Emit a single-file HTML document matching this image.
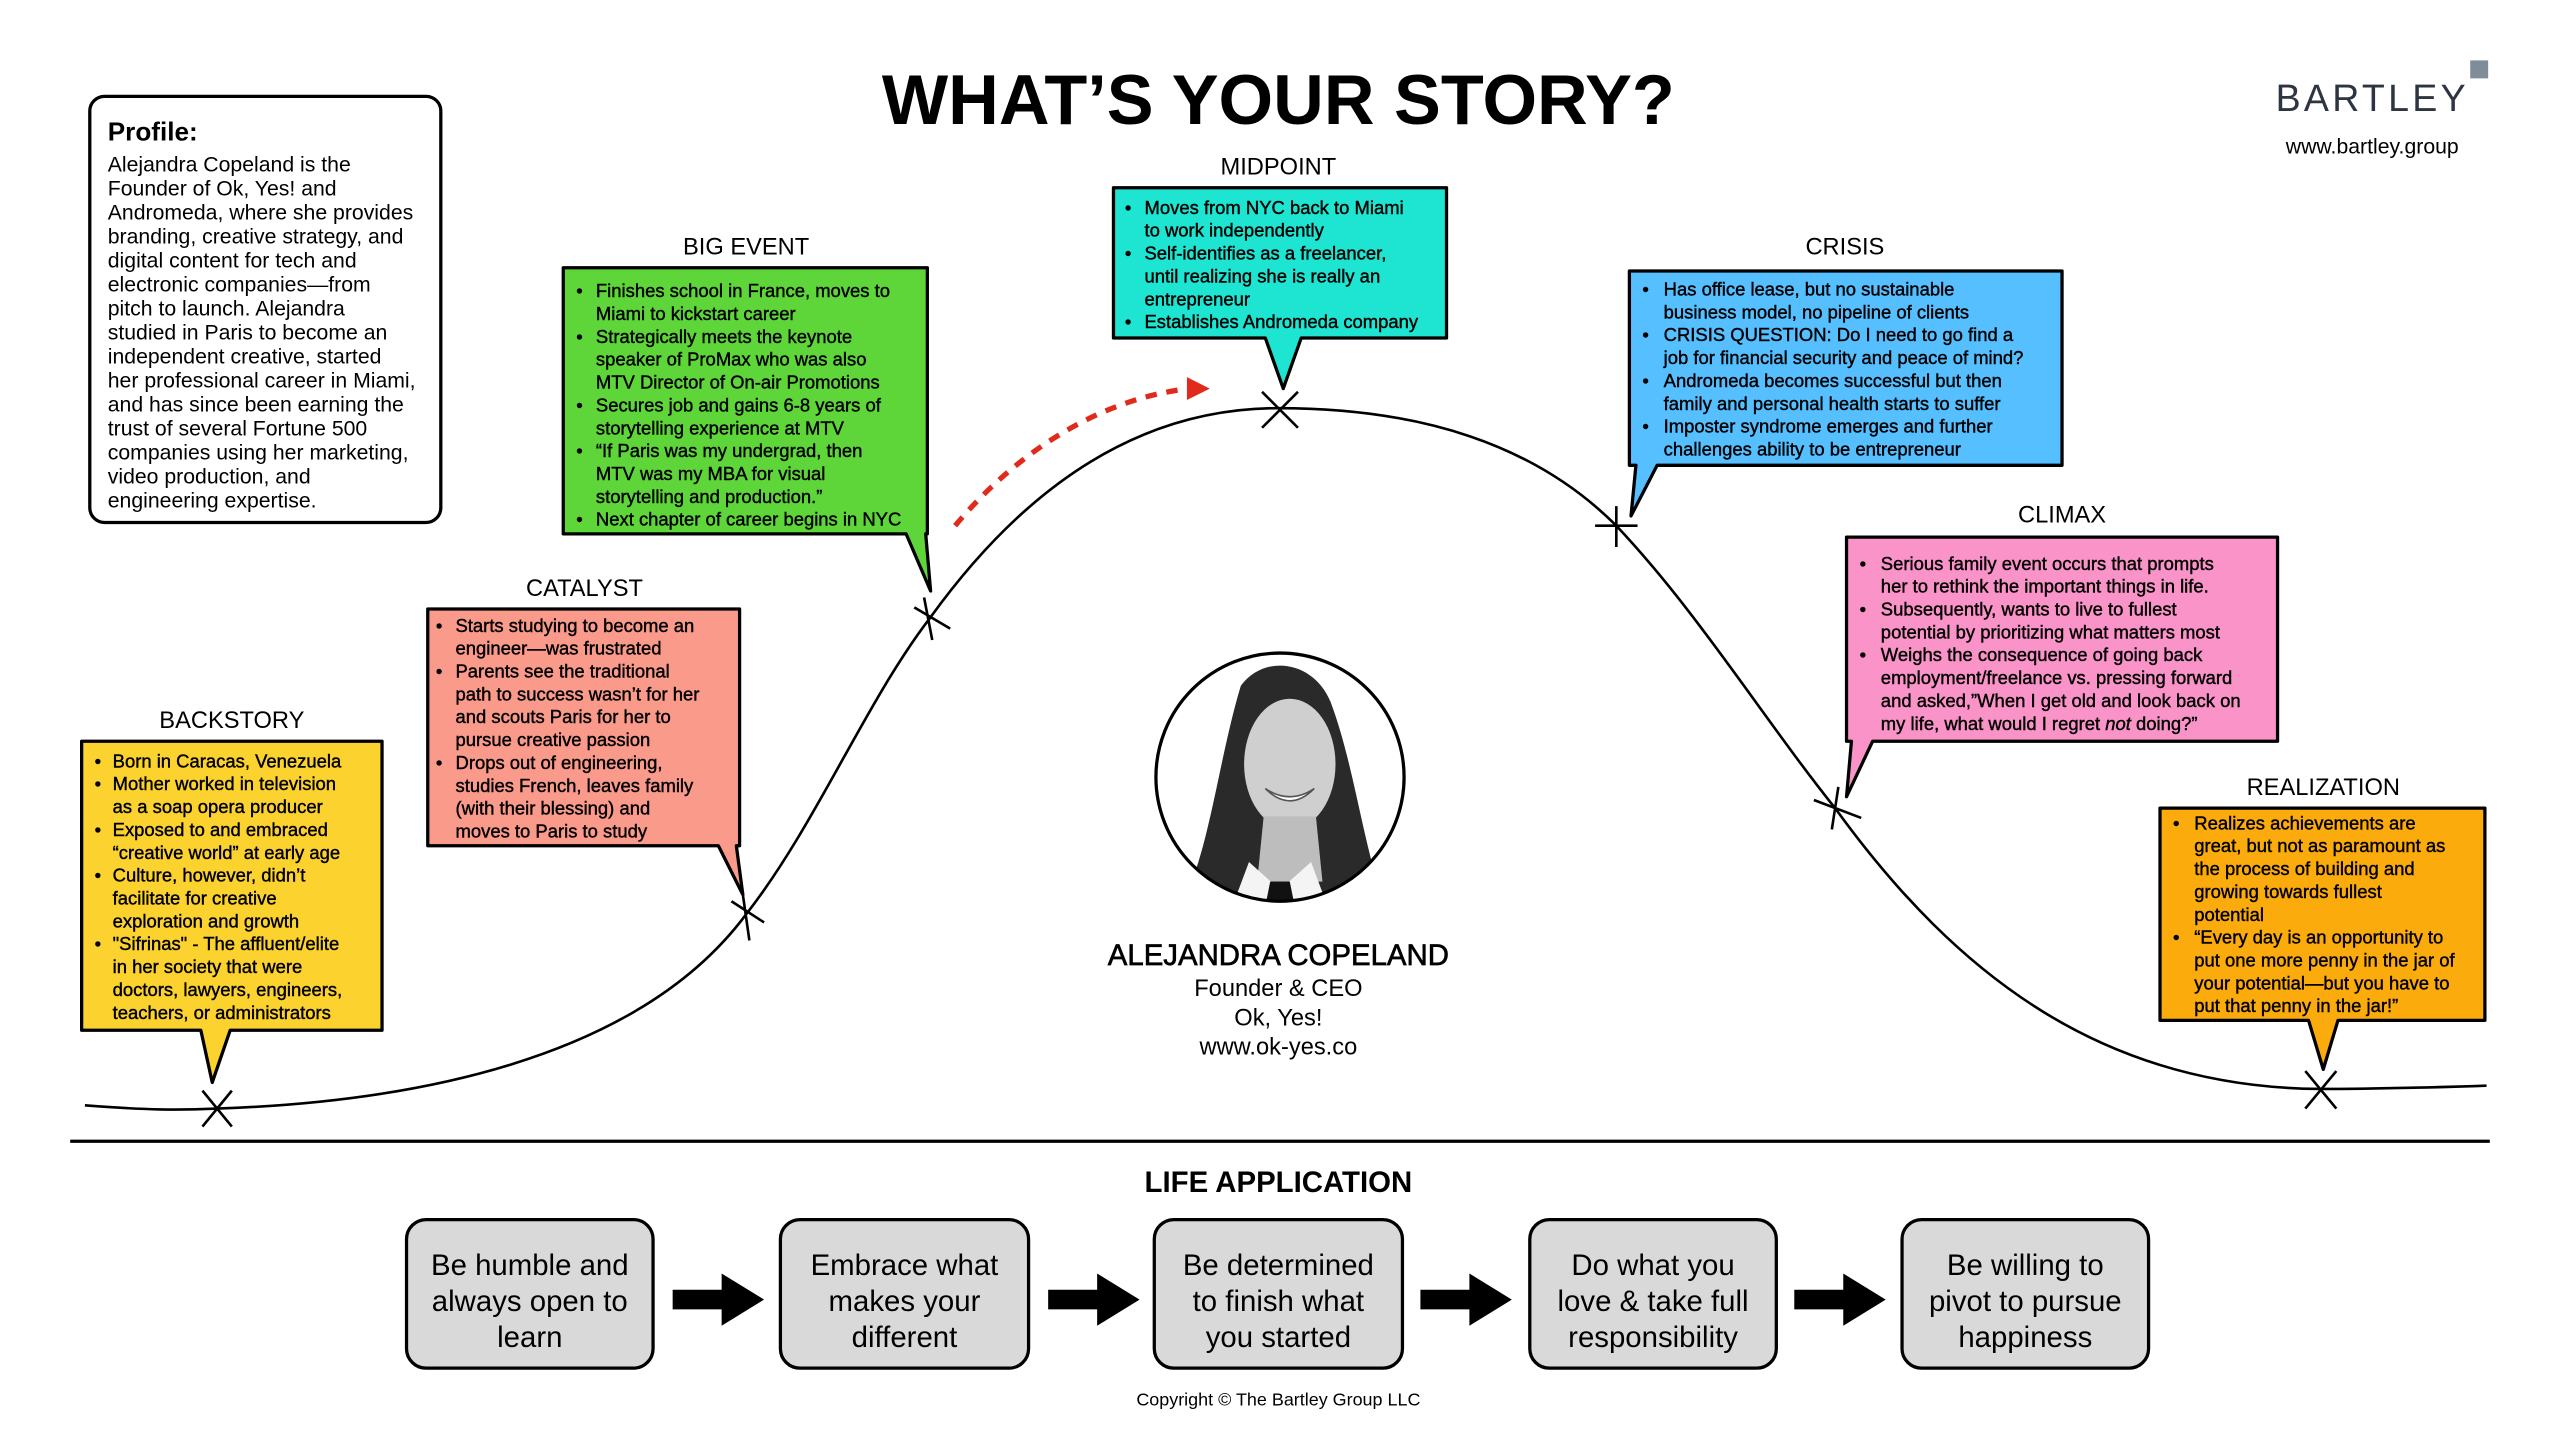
<!DOCTYPE html>
<html><head><meta charset="utf-8"><style>
html,body{margin:0;padding:0;background:#fff;}
svg{display:block;}
text{font-family:"Liberation Sans",Arial,sans-serif;fill:#000;}
.lab{font-size:14.5px;text-anchor:middle;}
.cb{font-size:11.3px;stroke:#000;stroke-width:0.25;}
.pf{font-size:13px;}
.bx{font-size:18px;text-anchor:middle;}
.cl{stroke:#000;stroke-width:2;stroke-linejoin:round;}
</style></head><body>
<svg width="2560" height="1440" viewBox="0 0 1568 882" preserveAspectRatio="none" xmlns="http://www.w3.org/2000/svg">
<rect width="1568" height="882" fill="#fff"/>
<!-- Title -->
<text x="783" y="76" style="font-size:43px;font-weight:bold;text-anchor:middle;">WHAT’S YOUR STORY?</text>
<text x="1453" y="68" style="font-size:23px;letter-spacing:2px;text-anchor:middle;fill:#2d3540;">BARTLEY</text>
<rect x="1513" y="37" width="11" height="11" fill="#7f8c99"/>
<text x="1453" y="94" style="font-size:13px;text-anchor:middle;">www.bartley.group</text>

<!-- Profile -->
<rect x="55" y="59" width="215" height="261" rx="9" fill="#fff" stroke="#000" stroke-width="2"/>
<text x="66" y="86" style="font-size:16px;font-weight:bold;">Profile:</text>
<text class="pf" x="66">
<tspan x="66" y="105">Alejandra Copeland is the</tspan>
<tspan x="66" y="119.7">Founder of Ok, Yes! and</tspan>
<tspan x="66" y="134.4">Andromeda, where she provides</tspan>
<tspan x="66" y="149.1">branding, creative strategy, and</tspan>
<tspan x="66" y="163.8">digital content for tech and</tspan>
<tspan x="66" y="178.5">electronic companies—from</tspan>
<tspan x="66" y="193.2">pitch to launch. Alejandra</tspan>
<tspan x="66" y="207.9">studied in Paris to become an</tspan>
<tspan x="66" y="222.6">independent creative, started</tspan>
<tspan x="66" y="237.3">her professional career in Miami,</tspan>
<tspan x="66" y="252">and has since been earning the</tspan>
<tspan x="66" y="266.7">trust of several Fortune 500</tspan>
<tspan x="66" y="281.4">companies using her marketing,</tspan>
<tspan x="66" y="296.1">video production, and</tspan>
<tspan x="66" y="310.8">engineering expertise.</tspan>
</text>

<!-- Curve -->
<path d="M52,677 C90,680 110,680 133,679 C250,675 390,650 457,560 C500,505 530,430 570,378 C630,295 700,250 783,250 C870,250 940,272 990,322 C1040,375 1080,440 1124,495 C1200,600 1290,666 1421,667 C1460,667 1490,666 1523,665" fill="none" stroke="#000" stroke-width="1.6"/>

<!-- Markers -->
<g stroke="#000" stroke-width="1.6">
<path d="M124,668 L142,690 M142,668 L124,690"/>
<path d="M448,552 L468,565 M455,548 L459,576"/>
<path d="M560,372 L582,385 M566,366 L571,392"/>
<path d="M773,240 L795,262 M795,240 L773,262"/>
<path d="M977,322 L1003,322 M990,310 L990,335"/>
<path d="M1111,490 L1140,501 M1126,482 L1122,508"/>
<path d="M1412,656 L1431,679 M1431,656 L1412,679"/>
</g>

<!-- Red dashed arrow -->
<path d="M585,322 C620,280 670,245 728,238" fill="none" stroke="#e02a1b" stroke-width="3.2" stroke-dasharray="7,6"/>
<path d="M727,231 L741,238 L727,245 Z" fill="#e02a1b"/>

<!-- BACKSTORY -->
<text class="lab" x="142" y="446">BACKSTORY</text>
<path class="cl" d="M50,454 H234 V631 H141 L130,663 L123,631 H50 Z" fill="#fcd22f"/>
<text class="cb">
<tspan x="58" y="470">•</tspan><tspan x="69" y="470">Born in Caracas, Venezuela</tspan>
<tspan x="58" y="484">•</tspan><tspan x="69" y="484">Mother worked in television</tspan>
<tspan x="69" y="498">as a soap opera producer</tspan>
<tspan x="58" y="512">•</tspan><tspan x="69" y="512">Exposed to and embraced</tspan>
<tspan x="69" y="526">“creative world” at early age</tspan>
<tspan x="58" y="540">•</tspan><tspan x="69" y="540">Culture, however, didn’t</tspan>
<tspan x="69" y="554">facilitate for creative</tspan>
<tspan x="69" y="568">exploration and growth</tspan>
<tspan x="58" y="582">•</tspan><tspan x="69" y="582">"Sifrinas" - The affluent/elite</tspan>
<tspan x="69" y="596">in her society that were</tspan>
<tspan x="69" y="610">doctors, lawyers, engineers,</tspan>
<tspan x="69" y="624">teachers, or administrators</tspan>
</text>

<!-- CATALYST -->
<text class="lab" x="358" y="365">CATALYST</text>
<path class="cl" d="M262,373 H453 V518 H451 L455,548 L440,518 H262 Z" fill="#f99a8a"/>
<text class="cb">
<tspan x="267" y="387">•</tspan><tspan x="279" y="387">Starts studying to become an</tspan>
<tspan x="279" y="401">engineer—was frustrated</tspan>
<tspan x="267" y="415">•</tspan><tspan x="279" y="415">Parents see the traditional</tspan>
<tspan x="279" y="429">path to success wasn’t for her</tspan>
<tspan x="279" y="443">and scouts Paris for her to</tspan>
<tspan x="279" y="457">pursue creative passion</tspan>
<tspan x="267" y="471">•</tspan><tspan x="279" y="471">Drops out of engineering,</tspan>
<tspan x="279" y="485">studies French, leaves family</tspan>
<tspan x="279" y="499">(with their blessing) and</tspan>
<tspan x="279" y="513">moves to Paris to study</tspan>
</text>

<!-- BIG EVENT -->
<text class="lab" x="457" y="156">BIG EVENT</text>
<path class="cl" d="M345,164 H568 V327 H567 L570,362 L555,327 H345 Z" fill="#5ed63a"/>
<text class="cb">
<tspan x="353" y="182">•</tspan><tspan x="365" y="182">Finishes school in France, moves to</tspan>
<tspan x="365" y="196">Miami to kickstart career</tspan>
<tspan x="353" y="210">•</tspan><tspan x="365" y="210">Strategically meets the keynote</tspan>
<tspan x="365" y="224">speaker of ProMax who was also</tspan>
<tspan x="365" y="238">MTV Director of On-air Promotions</tspan>
<tspan x="353" y="252">•</tspan><tspan x="365" y="252">Secures job and gains 6-8 years of</tspan>
<tspan x="365" y="266">storytelling experience at MTV</tspan>
<tspan x="353" y="280">•</tspan><tspan x="365" y="280">“If Paris was my undergrad, then</tspan>
<tspan x="365" y="294">MTV was my MBA for visual</tspan>
<tspan x="365" y="308">storytelling and production.”</tspan>
<tspan x="353" y="322">•</tspan><tspan x="365" y="322">Next chapter of career begins in NYC</tspan>
</text>

<!-- MIDPOINT -->
<text class="lab" x="783" y="107">MIDPOINT</text>
<path class="cl" d="M682,115 H886 V207 H797 L786,238 L775,207 H682 Z" fill="#1de5d1"/>
<text class="cb">
<tspan x="689" y="131">•</tspan><tspan x="701" y="131">Moves from NYC back to Miami</tspan>
<tspan x="701" y="145">to work independently</tspan>
<tspan x="689" y="159">•</tspan><tspan x="701" y="159">Self-identifies as a freelancer,</tspan>
<tspan x="701" y="173">until realizing she is really an</tspan>
<tspan x="701" y="187">entrepreneur</tspan>
<tspan x="689" y="201">•</tspan><tspan x="701" y="201">Establishes Andromeda company</tspan>
</text>

<!-- CRISIS -->
<text class="lab" x="1130" y="156">CRISIS</text>
<path class="cl" d="M998,166 H1263 V285 H1015 L999,316 L1002,285 H998 Z" fill="#55bfff"/>
<text class="cb">
<tspan x="1006" y="181">•</tspan><tspan x="1019" y="181">Has office lease, but no sustainable</tspan>
<tspan x="1019" y="195">business model, no pipeline of clients</tspan>
<tspan x="1006" y="209">•</tspan><tspan x="1019" y="209">CRISIS QUESTION: Do I need to go find a</tspan>
<tspan x="1019" y="223">job for financial security and peace of mind?</tspan>
<tspan x="1006" y="237">•</tspan><tspan x="1019" y="237">Andromeda becomes successful but then</tspan>
<tspan x="1019" y="251">family and personal health starts to suffer</tspan>
<tspan x="1006" y="265">•</tspan><tspan x="1019" y="265">Imposter syndrome emerges and further</tspan>
<tspan x="1019" y="279">challenges ability to be entrepreneur</tspan>
</text>

<!-- CLIMAX -->
<text class="lab" x="1263" y="320">CLIMAX</text>
<path class="cl" d="M1131,329 H1395 V454 H1147 L1131,488 L1134,454 H1131 Z" fill="#f993c8"/>
<text class="cb">
<tspan x="1139" y="349">•</tspan><tspan x="1152" y="349">Serious family event occurs that prompts</tspan>
<tspan x="1152" y="363">her to rethink the important things in life.</tspan>
<tspan x="1139" y="377">•</tspan><tspan x="1152" y="377">Subsequently, wants to live to fullest</tspan>
<tspan x="1152" y="391">potential by prioritizing what matters most</tspan>
<tspan x="1139" y="405">•</tspan><tspan x="1152" y="405">Weighs the consequence of going back</tspan>
<tspan x="1152" y="419">employment/freelance vs. pressing forward</tspan>
<tspan x="1152" y="433">and asked,”When I get old and look back on</tspan>
<tspan x="1152" y="447">my life, what would I regret <tspan font-style="italic">not</tspan> doing?”</tspan>
</text>

<!-- REALIZATION -->
<text class="lab" x="1423" y="487">REALIZATION</text>
<path class="cl" d="M1323,495 H1522 V625 H1432 L1423,655 L1414,625 H1323 Z" fill="#fbab0c"/>
<text class="cb">
<tspan x="1331" y="508">•</tspan><tspan x="1344" y="508">Realizes achievements are</tspan>
<tspan x="1344" y="522">great, but not as paramount as</tspan>
<tspan x="1344" y="536">the process of building and</tspan>
<tspan x="1344" y="550">growing towards fullest</tspan>
<tspan x="1344" y="564">potential</tspan>
<tspan x="1331" y="578">•</tspan><tspan x="1344" y="578">“Every day is an opportunity to</tspan>
<tspan x="1344" y="592">put one more penny in the jar of</tspan>
<tspan x="1344" y="606">your potential—but you have to</tspan>
<tspan x="1344" y="620">put that penny in the jar!”</tspan>
</text>

<!-- Photo -->
<defs><clipPath id="cp"><circle cx="784" cy="476" r="76"/></clipPath></defs>
<g clip-path="url(#cp)">
<rect x="700" y="390" width="170" height="170" fill="#fff"/>
<path d="M760,420 C775,400 805,405 815,430 C830,470 835,520 850,560 L720,560 C740,530 745,470 760,420 Z" fill="#2a2a2a"/>
<ellipse cx="790" cy="468" rx="28" ry="40" fill="#cfcfcf"/>
<path d="M774,500 L806,500 L810,540 L770,540 Z" fill="#bdbdbd"/>
<path d="M765,528 L784,545 L803,528 L815,560 L753,560 Z" fill="#f4f4f4"/>
<path d="M778,540 L790,540 L794,560 L774,560 Z" fill="#111"/>
<path d="M775,483 Q790,493 805,483 Q790,498 775,483 Z" fill="#fff" stroke="#555" stroke-width="1"/>
</g>
<circle cx="784" cy="476" r="76" fill="none" stroke="#000" stroke-width="2"/>

<text x="783" y="591" style="font-size:18px;text-anchor:middle;stroke:#000;stroke-width:0.4;">ALEJANDRA COPELAND</text>
<text x="783" y="610" style="font-size:14.5px;text-anchor:middle;">Founder &amp; CEO</text>
<text x="783" y="628" style="font-size:14.5px;text-anchor:middle;">Ok, Yes!</text>
<text x="783" y="646" style="font-size:14.5px;text-anchor:middle;">www.ok-yes.co</text>

<line x1="43" y1="699" x2="1525" y2="699" stroke="#000" stroke-width="2"/>
<text x="783" y="730" style="font-size:18px;font-weight:bold;text-anchor:middle;">LIFE APPLICATION</text>

<!-- Boxes -->
<g fill="#d9d9d9" stroke="#000" stroke-width="2">
<rect x="249" y="747" width="151" height="91" rx="12"/>
<rect x="478" y="747" width="152" height="91" rx="12"/>
<rect x="707" y="747" width="152" height="91" rx="12"/>
<rect x="937" y="747" width="151" height="91" rx="12"/>
<rect x="1165" y="747" width="151" height="91" rx="12"/>
</g>
<text class="bx"><tspan x="324.5" y="781">Be humble and</tspan><tspan x="324.5" y="803">always open to</tspan><tspan x="324.5" y="825">learn</tspan></text>
<text class="bx"><tspan x="554" y="781">Embrace what</tspan><tspan x="554" y="803">makes your</tspan><tspan x="554" y="825">different</tspan></text>
<text class="bx"><tspan x="783" y="781">Be determined</tspan><tspan x="783" y="803">to finish what</tspan><tspan x="783" y="825">you started</tspan></text>
<text class="bx"><tspan x="1012.5" y="781">Do what you</tspan><tspan x="1012.5" y="803">love &amp; take full</tspan><tspan x="1012.5" y="825">responsibility</tspan></text>
<text class="bx"><tspan x="1240.5" y="781">Be willing to</tspan><tspan x="1240.5" y="803">pivot to pursue</tspan><tspan x="1240.5" y="825">happiness</tspan></text>

<!-- Arrows -->
<g fill="#000">
<path d="M412,790 H442 V780 L468,796 L442,812 V802 H412 Z"/>
<path d="M642,790 H672 V780 L698,796 L672,812 V802 H642 Z"/>
<path d="M870,790 H900 V780 L926,796 L900,812 V802 H870 Z"/>
<path d="M1099,790 H1129 V780 L1155,796 L1129,812 V802 H1099 Z"/>
</g>

<text x="783" y="861" style="font-size:11px;text-anchor:middle;">Copyright © The Bartley Group LLC</text>
</svg>
</body></html>
